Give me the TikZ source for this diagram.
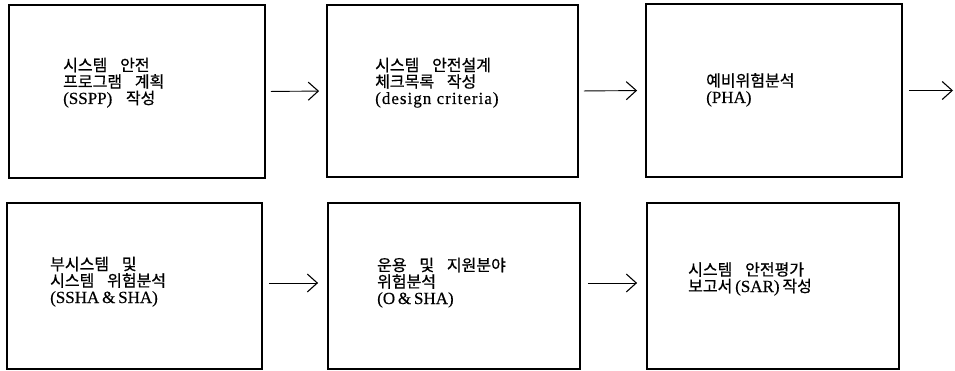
\documentclass[tikz,border=0pt]{standalone}
\usepackage{fontspec}
\setmainfont{Liberation Serif}[FakeBold=0.4]
\newfontfamily\kofont{Noto Sans CJK KR}[FakeBold=0.7]
\usetikzlibrary{arrows.meta}
\newcommand\K[1]{{\kofont\fontsize{16}{16.5}\selectfont #1}}
\newcommand\ksp{\hspace{0.8em}}
\newcommand\tightlines{\lineskiplimit=-20pt\relax\lineskip=0pt\relax}
\tikzset{
  stagebox/.style={draw, line width=1.8pt, inner sep=0pt, rectangle},
  stagetext/.style={anchor=base west, align=left, inner sep=0pt,
    font=\fontsize{17}{16.5}\selectfont\tightlines},
  flowarrow/.style={line width=0.9pt, -{Straight Barb[length=10pt,width=18pt,line width=1.1pt]}},
}
\begin{document}
\begin{tikzpicture}[x=1pt,y=-1pt]
\useasboundingbox (0,0) rectangle (955,371);
% boxes
\node[stagebox, minimum width=256pt, minimum height=173pt] (b1) at (137,91.5) {};
\node[stagebox, minimum width=251pt, minimum height=172pt] (b2) at (452.5,91) {};
\node[stagebox, minimum width=256pt, minimum height=173pt] (b3) at (774,90.5) {};
\node[stagebox, minimum width=255pt, minimum height=166pt] (b4) at (134.5,286) {};
\node[stagebox, minimum width=252pt, minimum height=166pt] (b5) at (454,286) {};
\node[stagebox, minimum width=252pt, minimum height=166pt] (b6) at (773,286) {};
% texts (anchor = baseline of the last line)
\node[stagetext] (t1) at (63,104) {\K{시스템\ksp 안전}\\\K{프로그램\ksp 계획}\\(SSPP)\ksp\K{작성}};
\node[stagetext] (t2) at (375,104) {\K{시스템\ksp 안전설계}\\\K{체크목록\ksp 작성}\\{\addfontfeature{LetterSpace=6}(design criteria)}};
\node[stagetext] (t3) at (706,103) {\K{예비위험분석}\\(PHA)};
\node[stagetext] (t4) at (50,303) {\K{부시스템\ksp 및}\\\K{시스템\ksp 위험분석}\\(SSHA\,\&\,SHA)};
\node[stagetext] (t5) at (377,304) {\K{운용\ksp 및\ksp 지원분야}\\\K{위험분석}\\(O\,\&\,SHA)};
\node[stagetext] (t6) at (688,292) {\K{시스템\ksp 안전평가}\\\K{보고서}\,(SAR)\,\K{작성}};
% connectors
\coordinate (out) at (953,90.5);
\draw[flowarrow, shorten <=5pt, shorten >=7pt] (b1.east) -- (b2.west);
\draw[flowarrow, shorten <=5pt, shorten >=8pt] (b2.east) -- (b3.west);
\draw[flowarrow, shorten <=6pt] (b3.east) -- (out);
\draw[flowarrow, shorten <=6pt, shorten >=9pt] ([yshift=3pt]b4.east) -- ([yshift=3pt]b5.west);
\draw[flowarrow, shorten <=7pt, shorten >=9pt] ([yshift=3pt]b5.east) -- ([yshift=3pt]b6.west);
\end{tikzpicture}
\end{document}
